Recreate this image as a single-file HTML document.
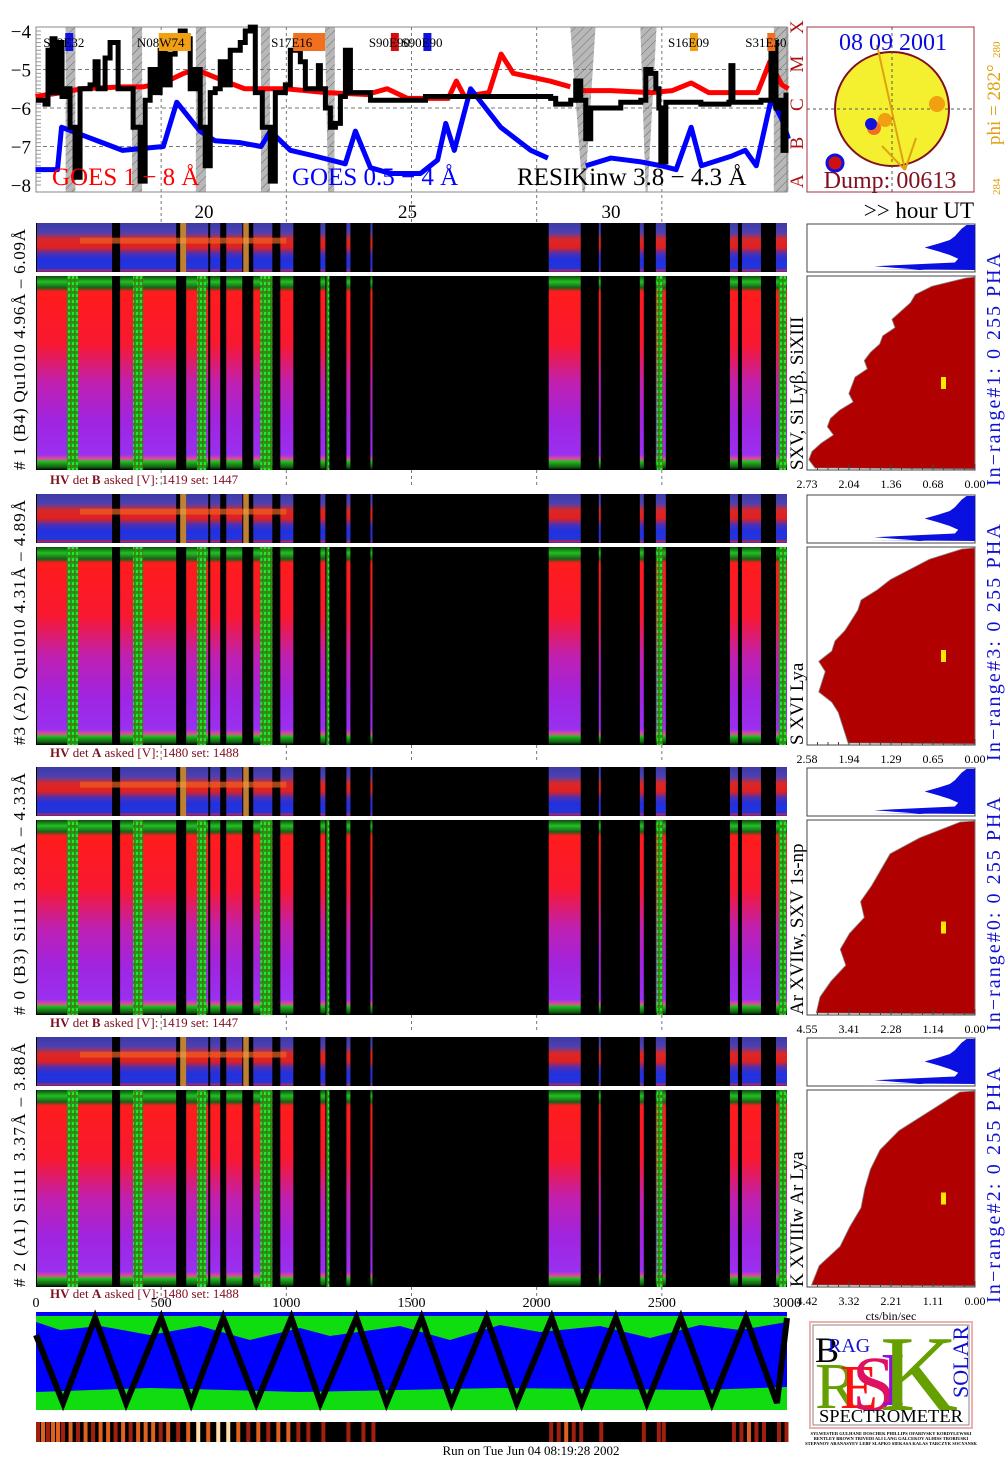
<!DOCTYPE html>
<html><head><meta charset="utf-8">
<style>
html,body{margin:0;padding:0;background:#fff;}
svg{display:block;font-family:"Liberation Serif",serif;}
</style></head>
<body>
<svg id="chart" width="1008" height="1469" viewBox="0 0 1008 1469" xmlns="http://www.w3.org/2000/svg">
<defs>
<linearGradient id="gMain" x1="0" y1="0" x2="0" y2="1">
<stop offset="0" stop-color="#0e4a0e"/><stop offset="0.03" stop-color="#22c022"/><stop offset="0.06" stop-color="#186018"/>
<stop offset="0.08" stop-color="#ff1c1c"/><stop offset="0.35" stop-color="#f81830"/><stop offset="0.55" stop-color="#c020b0"/>
<stop offset="0.75" stop-color="#a024e0"/><stop offset="0.92" stop-color="#9a30f0"/><stop offset="0.945" stop-color="#e05090"/>
<stop offset="0.955" stop-color="#22c022"/><stop offset="0.985" stop-color="#116011"/><stop offset="1" stop-color="#000"/>
</linearGradient>
<linearGradient id="gTop" x1="0" y1="0" x2="0" y2="1">
<stop offset="0" stop-color="#3a3aa8"/><stop offset="0.2" stop-color="#5040b0"/><stop offset="0.33" stop-color="#d82828"/>
<stop offset="0.5" stop-color="#e02020"/><stop offset="0.62" stop-color="#5030b0"/><stop offset="0.75" stop-color="#2030e0"/>
<stop offset="0.94" stop-color="#2535d8"/><stop offset="0.96" stop-color="#e02020"/><stop offset="1" stop-color="#2030e0"/>
</linearGradient>
<pattern id="pGreen" width="4" height="6" patternUnits="userSpaceOnUse">
<rect width="4" height="6" fill="#16a016"/><rect x="0" y="0" width="2" height="3" fill="#30e030"/><rect x="2" y="3" width="1" height="2" fill="#d02020"/>
</pattern>
<pattern id="pHatch" width="6" height="6" patternUnits="userSpaceOnUse" patternTransform="rotate(45)">
<rect width="6" height="6" fill="#b8b8b8"/><line x1="0" y1="0" x2="0" y2="6" stroke="#555" stroke-width="0.8"/>
</pattern>
</defs>
</svg>
<script>
// ---------- DATA ----------
const goesHours = [15.86,16.4,16.5,17.0,17.5,18.0,18.5,19.0,19.33,19.9,20.27,20.89,21.4,21.63,22.12,22.73,23.47,23.72,24.09,24.58,25.32,25.74,25.94,26.15,26.55,27.29,28.03,28.45];
const goesShort = [-7.6,-7.6,-6.5,-6.7,-6.9,-7.1,-7.05,-7.0,-5.85,-6.6,-6.85,-6.9,-7.0,-6.6,-7.1,-7.25,-7.45,-6.6,-7.55,-7.7,-7.7,-7.35,-6.4,-7.1,-5.5,-6.5,-7.1,-7.3];
const goesHours2 = [29.38,30.0,30.74,31.23,31.6,31.97,32.22,32.96,33.3,33.57,33.94,34.2,34.36];
const goesShort2 = [-7.5,-7.3,-7.4,-7.5,-7.6,-6.5,-7.5,-7.25,-7.1,-7.5,-5.75,-6.3,-6.8];
const longHours = [15.86,16.5,17.0,18.0,18.5,19.0,19.5,19.8,20.5,21.0,22.0,22.5,23.0,24.0,24.5,25.0,26.0,26.2,26.4,27.0,27.3,27.6,28.5,29.0];
const goesLong = [-5.7,-5.6,-5.5,-5.45,-5.45,-5.35,-5.1,-5.0,-5.3,-5.5,-5.5,-5.55,-5.6,-5.65,-5.5,-5.75,-5.75,-5.3,-5.7,-5.6,-4.6,-5.1,-5.3,-5.45];
const longHours2 = [29.3,30.0,31.0,31.5,31.97,32.4,33.0,33.6,33.9,34.2,34.36];
const goesLong2 = [-5.55,-5.55,-5.6,-5.55,-5.35,-5.6,-5.6,-5.6,-4.8,-5.4,-5.5];
const resikDump = [0,36,48,56,64,76,88,104,120,136,156,176,216,236,248,276,296,316,328,356,388,416,436,456,476,496,516,536,556,576,596,616,636,656,676,696,716,736,756,776,816,836,856,876,904,936,956,996,1016,1056,1076,1104,1128,1136,1156,1176,1196,1216,1236,1256,1316,1336,1536,1556,2016,2056,2076,2136,2156,2176,2196,2216,2336,2416,2436,2456,2476,2488,2496,2516,2656,2768,2776,2784,2896,2936,2956,2968,2984,2996];
const resikFlux = [-5.8,-5.9,-4.5,-5.6,-4.2,-5.6,-4.3,-5.7,-5.5,-6.5,-7.8,-5.5,-5.4,-4.8,-5.5,-4.7,-4.3,-4.3,-5.5,-5.5,-6.5,-7.9,-5.8,-5.0,-5.6,-4.5,-5.4,-4.6,-4.4,-4.0,-4.2,-5.5,-5.0,-6.5,-7.5,-5.6,-5.5,-4.8,-5.4,-4.5,-4.3,-4.0,-3.9,-5.6,-6.5,-7.9,-5.6,-5.4,-4.5,-4.8,-5.5,-5.5,-4.9,-5.5,-6.0,-6.5,-6.4,-5.7,-4.5,-5.6,-5.6,-5.8,-5.8,-5.7,-5.7,-5.75,-5.9,-5.8,-5.3,-5.8,-6.8,-6.0,-5.85,-5.8,-5.0,-5.1,-5.5,-6.0,-7.4,-5.85,-5.9,-5.85,-4.9,-5.85,-5.8,-4.3,-6.0,-5.8,-7.1,-5.6];
const eclipseTop = [[16.6,16.84],[18.23,18.48],[19.8,20.05],[21.4,21.62],[22.97,23.22],[29.0,29.62],[30.72,31.12],[34.0,34.36]];
const eclipseBot = [[16.6,16.84],[18.23,18.48],[19.8,20.05],[21.4,21.62],[23.05,23.2],[29.3,29.36],[30.85,30.9],[34.0,34.36]];
const regionNames = ["S13E32","N08W74","S17E16","S90E90","S90E90","S16E09","S31E30"];
const regionHours = [16.05,18.35,21.65,24.05,24.85,31.4,33.3];
const regionColors = ["#1010e0","#f0a010","#f07020","#d01010","#1010e0","#f0a010","#f07020"];
const dataSegments = [[4,304],[336,560],[600,688],[696,736],[760,824],[868,944],[976,1028],[1136,1156],[1240,1256],[1336,1344],[2048,2176],[2248,2256],[2412,2428],[2476,2516],[2772,2804],[2820,2896],[2956,3000]];
const greenSegments = [[124,168],[388,428],[644,680],[896,944],[1160,1172],[2480,2504],[2968,2996]];
const flareColumns = [[576,600],[828,850]];
const zigTops = [236,500,748,1020,1280,1540,1800,2060,2316,2576,2836,3000];
const zigBots = [108,360,620,880,1136,1400,1660,1920,2180,2440,2700,2960];
const zigStart = 0;
const stripDumps = [0,20,40,60,80,100,130,160,190,220,250,280,310,340,370,400,430,460,490,520,560,600,640,680,720,760,800,840,880,920,960,1000,1040,1080,1140,1240,1300,1340,2050,2080,2110,2140,2170,2250,2420,2480,2500,2780,2810,2840,2870,2900,2960,2990];
const stripLevel = [0.6,0.8,0.5,0.7,0.9,0.6,0.8,0.5,0.7,0.6,0.9,0.7,0.6,0.8,0.5,0.7,0.9,0.8,0.6,0.7,0.5,0.9,1.0,0.8,0.95,1.0,0.7,0.6,0.8,0.5,0.7,0.9,0.6,0.5,0.4,0.5,0.4,0.3,0.6,0.5,0.7,0.4,0.6,0.4,0.5,0.6,0.4,0.6,0.5,0.7,0.4,0.5,0.6,0.5];
const histMax = [2.73,2.58,4.55,4.42];
const histTicks = [["2.73","2.04","1.36","0.68","0.00"],["2.58","1.94","1.29","0.65","0.00"],["4.55","3.41","2.28","1.14","0.00"],["4.42","3.32","2.21","1.11","0.00"]];
const hist1 = [0.15,0.7,0.97,1.05,1.2,1.35,1.3,1.5,1.55,1.7,1.8,1.75,1.95,2.0,2.05,1.98,2.2,2.35,2.4,2.3,2.5,2.65,2.7,2.6];
const hist2 = [0.2,0.7,1.0,1.3,1.5,1.75,1.8,1.9,2.0,2.15,2.2,2.4,2.3,2.35,2.4,2.2,2.1,2.05,2.0,1.95];
const hist3 = [0.4,1.5,2.3,2.55,2.8,3.1,3.0,3.4,3.65,3.5,3.9,4.2,4.3];
const hist4 = [0.4,1.2,2.0,2.5,2.75,2.9,3.0,3.3,3.55,4.1,4.3];
const phaProfile = [0.05,0.08,0.1,0.12,0.15,0.22,0.3,0.22,0.15,0.1,0.12,0.6,0.3];
const specLabels = ["# 1 (B4) Qu1010 4.96Å – 6.09Å","#3 (A2) Qu1010  4.31Å – 4.89Å","# 0 (B3) Si111  3.82Å – 4.33Å","# 2 (A1) Si111  3.37Å – 3.88Å"];
const lineLabels = ["SXV, Si Lyβ, SiXIII","S XVI Lya","Ar XVIIw,  SXV 1s-np","K XVIIIw  Ar Lya"];
const hvLabels = ["B","A","B","A"];
const hvAsked = ["1419","1480","1419","1480"];
const hvSet = ["1447","1488","1447","1488"];
const rangeLabels = ["In−range#1:   0 255   PHA","In−range#3:   0 255   PHA","In−range#0:   0 255   PHA","In−range#2:   0 255   PHA"];
const dumpTicks = [0,500,1000,1500,2000,2500,3000];
const hourTicks = [20,25,30];
const fluxTicks = [-4,-5,-6,-7,-8];

// ---------- HELPERS ----------
const NS="http://www.w3.org/2000/svg";
const svg=document.getElementById('chart');
function mk(tag,attrs,parent){const e=document.createElementNS(NS,tag);for(const k in attrs)e.setAttribute(k,attrs[k]);(parent||svg).appendChild(e);return e;}
function txt(s,attrs,parent){const e=mk('text',attrs,parent);e.textContent=s;return e;}
const X0=36,X1=787;
const xd=d=>X0+d/3000*(X1-X0);
const xh=h=>204+(h-20)*40.7;
const yg=v=>31+(-4-v)*38.5;

// ---------- GOES PANEL ----------
const goes=mk('g',{});


eclipseTop.forEach((t,i)=>{const b=eclipseBot[i];
 const p=mk('polygon',{points:`${xh(t[0])},27 ${xh(t[1])},27 ${xh(b[1])},192 ${xh(b[0])},192`,fill:'url(#pHatch)'},goes);
 
 });
[-5,-6,-7].forEach(v=>{mk('line',{x1:X0,x2:X1,y1:yg(v),y2:yg(v),stroke:'#777','stroke-dasharray':'4,3','stroke-width':1},goes);});
dumpTicks.slice(1,-1).forEach(d=>{mk('line',{x1:xd(d),x2:xd(d),y1:27,y2:222,stroke:'#777','stroke-dasharray':'3,3','stroke-width':1},goes);});
const frame=mk('rect',{x:X0,y:27,width:X1-X0,height:165,fill:'none',stroke:'#888'},goes);


fluxTicks.forEach(v=>{const t=txt(String(v).replace('-','−'),{x:31,y:yg(v)+7,'font-size':19,'text-anchor':'end'},goes);
 
 });
for(let v=-4;v>=-8;v-=0.1){mk('line',{x1:X0,x2:X0+5,y1:yg(v),y2:yg(v),stroke:'#999'},goes);}
function poly(hs,vs,color,w,name){const pts=hs.map((h,i)=>xh(h)+','+yg(vs[i])).join(' ');
 const p=mk('polyline',{points:pts,fill:'none',stroke:color,'stroke-width':w,'stroke-linejoin':'round'},goes);
 
 }
poly(longHours,goesLong,'#ff0000',5,'goes-long-line');
poly(longHours2,goesLong2,'#ff0000',5,'goes-long-line-2');
poly(goesHours,goesShort,'#0000ff',5,'goes-short-line');
poly(goesHours2,goesShort2,'#0000ff',5,'goes-short-line-2');
{let pts=[];resikDump.forEach((d,i)=>{if(i>0)pts.push(xd(d)+','+yg(resikFlux[i-1]));pts.push(xd(d)+','+yg(resikFlux[i]));});
 const p=mk('polyline',{points:pts.join(' '),fill:'none',stroke:'#000','stroke-width':5},goes);
 
 }
regionNames.forEach((n,i)=>{const x=xh(regionHours[i]);
 const r=mk('rect',{x:x+22,y:33,width:n==='S90E90'?8:(i===1||i===2?32:8),height:18,fill:regionColors[i]},goes);
 
 
 const t=txt(n,{x:x,y:47,'font-size':13},goes);
 
 });
[['GOES 1 − 8 Å',52,'#ff0000'],['GOES 0.5 − 4 Å',292,'#0000ff'],['RESIKinw 3.8 − 4.3 Å',517,'#000']].forEach(a=>{
 const t=txt(a[0],{x:a[1],y:185,'font-size':25,fill:a[2]},goes);
 
 });
['A','B','C','M','X'].forEach((c,i)=>{const t=txt(c,{x:0,y:0,'font-size':19,fill:'#b01010',transform:`translate(803,${188-i*38.5}) rotate(-90)`},goes);
 
 });
hourTicks.forEach(h=>{const t=txt(String(h),{x:xh(h),y:218,'font-size':19,'text-anchor':'middle'});
 
 });
{const t=txt('>> hour UT',{x:974,y:218,'font-size':23,'text-anchor':'end'});
 
 }

// ---------- SUN DISC ----------
const sun=mk('g',{});


mk('rect',{x:807,y:27,width:167,height:165,fill:'#fff',stroke:'#a03040'},sun);
mk('circle',{cx:892,cy:109,r:57,fill:'#f4f030',stroke:'#801020','stroke-width':2},sun);
mk('line',{x1:807,x2:974,y1:109,y2:109,stroke:'#555','stroke-dasharray':'3,3'},sun);
mk('line',{x1:892,x2:892,y1:27,y2:192,stroke:'#555','stroke-dasharray':'3,3'},sun);
mk('line',{x1:877,y1:45,x2:905,y2:170,stroke:'#e0a010','stroke-width':2},sun);
mk('line',{x1:882,y1:146,x2:905,y2:170,stroke:'#e0a010','stroke-width':2},sun);
mk('line',{x1:916,y1:138,x2:905,y2:170,stroke:'#e0a010','stroke-width':2},sun);
mk('circle',{cx:937,cy:104,r:8,fill:'#f0a010'},sun);
mk('circle',{cx:874,cy:128,r:7,fill:'#f07020'},sun);
mk('circle',{cx:885,cy:120,r:7,fill:'#f0a010'},sun);
mk('circle',{cx:871,cy:124,r:6,fill:'#1010e0'},sun);
mk('circle',{cx:835,cy:163,r:8,fill:'#d01010',stroke:'#1010e0','stroke-width':3},sun);
{const t=txt('08 09 2001',{x:893,y:50,'font-size':24,fill:'#0a0ae0','text-anchor':'middle'},sun);
 
 }
{const t=txt('Dump: 00613',{x:890,y:188,'font-size':24,fill:'#801020','text-anchor':'middle'},sun);
 
 }
{const t=txt('phi = 282°',{x:0,y:0,'font-size':19,fill:'#e0a010',transform:'translate(1000,145) rotate(-90)'},sun);
 
 
 txt('280',{x:0,y:0,'font-size':11,fill:'#e0a010',transform:'translate(1000,58) rotate(-90)'},sun);
 txt('284',{x:0,y:0,'font-size':11,fill:'#e0a010',transform:'translate(1000,195) rotate(-90)'},sun);}

// ---------- SPECTROGRAMS ----------
const panels=[{tt:223,tb:272,mt:276,mb:470,hv:484},{tt:494,tb:543,mt:547,mb:745,hv:757},{tt:767,tb:816,mt:820,mb:1015,hv:1027},{tt:1037,tb:1086,mt:1090,mb:1287,hv:1298}];
const hists=[hist1,hist2,hist3,hist4];
panels.forEach((p,pi)=>{
 const g=mk('g',{});
 
 
 mk('rect',{x:X0,y:p.tt,width:X1-X0,height:p.tb-p.tt,fill:'#000'},g);
 mk('rect',{x:X0,y:p.mt,width:X1-X0,height:p.mb-p.mt,fill:'#000'},g);
 dataSegments.forEach(s=>{
  const a=mk('rect',{x:xd(s[0]),y:p.tt,width:xd(s[1])-xd(s[0]),height:p.tb-p.tt,fill:'url(#gTop)'},g);
  
  
  const b=mk('rect',{x:xd(s[0]),y:p.mt,width:xd(s[1])-xd(s[0]),height:p.mb-p.mt,fill:'url(#gMain)'},g);
  
  });
 mk('rect',{x:xd(176),y:p.tt+(p.tb-p.tt)*0.3,width:xd(1000)-xd(176),height:(p.tb-p.tt)*0.12,fill:'#f06020',opacity:0.7},g);
 flareColumns.forEach(c=>{mk('rect',{x:xd(c[0]),y:p.tt,width:xd(c[1])-xd(c[0]),height:p.tb-p.tt,fill:'#f0a040',opacity:0.8},g);});
 greenSegments.forEach(s=>{const r=mk('rect',{x:xd(s[0]),y:p.mt,width:xd(s[1])-xd(s[0]),height:p.mb-p.mt,fill:'url(#pGreen)'},g);
  
  });
 mk('line',{x1:X0,x2:X1,y1:p.tb+2,y2:p.tb+2,stroke:'#fff','stroke-width':2},g);
 dumpTicks.slice(1,-1).forEach(d=>{mk('line',{x1:xd(d),x2:xd(d),y1:p.mb,y2:p.mb+18,stroke:'#777','stroke-dasharray':'3,3'},g);});
 const hv=mk('text',{x:50,y:p.hv,'font-size':13,fill:'#801020'},g);
 
 
 hv.innerHTML=`<tspan font-weight="bold">HV</tspan> det <tspan font-weight="bold">${hvLabels[pi]}</tspan> asked [V]:  ${hvAsked[pi]} set:  ${hvSet[pi]}`;
 const sl=txt(specLabels[pi],{x:0,y:0,'font-size':17,transform:`translate(25,${p.mb}) rotate(-90)`,textLength:p.mb-p.tt-6,lengthAdjust:'spacing'},g);
 
 
 const ll=txt(lineLabels[pi],{x:0,y:0,'font-size':19,transform:`translate(803,${p.mb}) rotate(-90)`},g);
 
 
 // histogram
 const hg=mk('g',{});
 
 
 const HX0=807,HX1=975,max=histMax[pi],vals=hists[pi];
 const hxv=v=>HX1-v/max*(HX1-HX0);
 mk('rect',{x:HX0,y:p.tt+1,width:HX1-HX0,height:p.tb-p.tt-1,fill:'#fff',stroke:'#444'},hg);
 let ph=[];const n=phaProfile.length;
 phaProfile.forEach((f,i)=>{ph.push(`${HX1-f*(HX1-HX0)},${p.tt+2+i/(n-1)*(p.tb-p.tt-4)}`);});
 const pha=mk('polygon',{points:`${HX1},${p.tt+2} ${ph.join(' ')} ${HX0+60},${p.tb-3} ${HX1},${p.tb-2}`,fill:'#0a10e0'},hg);
 
 
 mk('rect',{x:HX0,y:p.mt,width:HX1-HX0,height:p.mb-p.mt,fill:'#fff',stroke:'#444'},hg);
 let pts=[`${HX1},${p.mt+1}`];const m=vals.length;
 vals.forEach((v,i)=>{const y=p.mt+2+i/(m-1)*(p.mb-p.mt-4);pts.push(`${hxv(v)},${y}`);});
 pts.push(`${HX1},${p.mb-1}`);
 const area=mk('polygon',{points:pts.join(' '),fill:'#b00000',stroke:'#888','stroke-width':0.8},hg);
 
 
 mk('rect',{x:941,y:(p.mt+p.mb)/2-6+10,width:5,height:12,fill:'#ffe800'},hg);
 for(let i=0;i<=16;i++){const x=HX0+i*(HX1-HX0)/16;mk('line',{x1:x,x2:x,y1:p.mb,y2:p.mb-(i%4?3:6),stroke:'#444'},hg);}
 histTicks[pi].forEach((t,i)=>{const e=txt(t,{x:HX0+i*(HX1-HX0)/4,y:p.mb+18,'font-size':12,'text-anchor':'middle'},hg);
  
  });
 const rl=txt(rangeLabels[pi],{x:0,y:0,'font-size':20,fill:'#1010d0',transform:`translate(1000,${p.mb+16}) rotate(-90)`,textLength:p.mb+16-p.tt-30,lengthAdjust:'spacing'},hg);
 
 
});
{const t=txt('cts/bin/sec',{x:891,y:1320,'font-size':12,'text-anchor':'middle'});
 
 }
dumpTicks.forEach(d=>{const t=txt(String(d),{x:xd(d),y:1307,'font-size':14,'text-anchor':'middle'});
 
 });

// ---------- BOTTOM PANEL ----------
const bp=mk('g',{});


mk('rect',{x:X0,y:1312,width:X1-X0,height:98,fill:'#0000ff'},bp);
mk('path',{d:`M${X0},1316 L${X1},1316 L${X1},1322 L740,1330 L700,1325 L650,1338 L600,1326 L540,1332 L500,1325 L450,1340 L400,1326 L330,1336 L300,1328 L250,1340 L200,1326 L150,1335 L100,1326 L60,1330 L${X0},1322 Z`,fill:'#10dd10'},bp);
mk('path',{d:`M${X0},1392 L150,1388 L300,1392 L500,1388 L700,1390 L${X1},1387 L${X1},1410 L${X0},1410 Z`,fill:'#10dd10'},bp);
{let all=[[zigStart,1335]];zigTops.forEach(d=>all.push([d,1318]));zigBots.forEach(d=>all.push([d,1403]));all.sort((a,b)=>a[0]-b[0]);
 const z=mk('polyline',{points:all.map(a=>xd(a[0])+','+a[1]).join(' '),fill:'none',stroke:'#000','stroke-width':6},bp);
 
 }
mk('rect',{x:X0,y:1422,width:X1-X0,height:20,fill:'#000'},bp);
stripDumps.forEach((d,i)=>{const l=stripLevel[i];
 const r=mk('rect',{x:xd(d),y:1422,width:4,height:20,fill:l>0.9?'#ffe0b0':(l>0.65?'#e06020':'#a02010')},bp);
 
 });
{const t=txt('Run on Tue Jun 04 08:19:28 2002',{x:531,y:1455,'font-size':13,'text-anchor':'middle'});
 
 }

// ---------- LOGO ----------
const lg=mk('g',{});


mk('rect',{x:810,y:1322,width:162,height:106,fill:'#fff',stroke:'#f0b0b0','stroke-width':2},lg);
mk('rect',{x:813,y:1325,width:156,height:100,fill:'none',stroke:'#888'},lg);
txt('B',{x:815,y:1362,'font-size':36,fill:'#000'},lg);
txt('RAG',{x:828,y:1352,'font-size':20,fill:'#1010d0'},lg);
txt('R',{x:815,y:1408,'font-size':66,fill:'#66a000'},lg);
txt('E',{x:840,y:1408,'font-size':62,fill:'#ff1010'},lg);
txt('S',{x:852,y:1410,'font-size':78,fill:'#e01060'},lg);
txt('I',{x:880,y:1405,'font-size':76,fill:'#9010e0'},lg);
txt('K',{x:880,y:1410,'font-size':108,fill:'#66a000'},lg);
txt('SOLAR',{x:0,y:0,'font-size':22,fill:'#1010d0',transform:'translate(968,1398) rotate(-90)'},lg);
txt('SPECTROMETER',{x:891,y:1422,'font-size':18,'text-anchor':'middle',textLength:144,lengthAdjust:'spacingAndGlyphs'},lg);
txt('SYLWESTER GULHANE DOSCHEK PHILLIPS OFARIVSKY KORDYLEWSKI',{x:891,y:1435,'font-size':4.5,'text-anchor':'middle','font-weight':'bold'},lg);
txt('BENTLEY BROWN TRIVEDI ALI LANG GALCEKOV ALHISS TROBIUSKI',{x:891,y:1440,'font-size':4.5,'text-anchor':'middle','font-weight':'bold'},lg);
txt('STEPANOV ARANASYEV LEBF SLAPKO SIEKASA KALAS TARCZYK SOCYANSK',{x:891,y:1445,'font-size':4.5,'text-anchor':'middle','font-weight':'bold'},lg);
</script>
</body></html>
